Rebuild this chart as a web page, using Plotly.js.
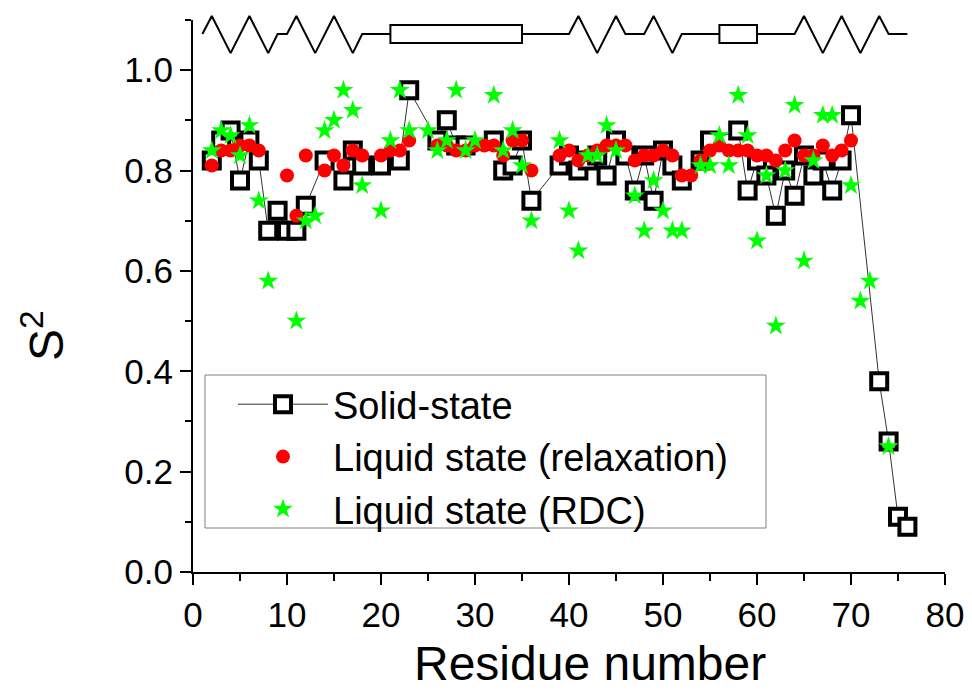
<!DOCTYPE html>
<html>
<head>
<meta charset="utf-8">
<script src="https://cdn.plot.ly/plotly-3.0.1.min.js"></script>
<style>
    html, body { margin: 0; padding: 0; background: #fff; }
    #plot { width: 972px; height: 698px; }
</style>
</head>
<body>
<div id="plot"></div>
<script>
// Solid-state order parameters (black squares, joined by a thin line).
const solidResidue = [2, 3, 4, 5, 6, 7, 8, 9, 10, 11, 12, 14, 16, 17, 18, 20, 22, 23, 26, 27, 28, 29, 32, 33, 34, 35, 36,
    39, 40, 41, 42, 43, 44, 45, 46, 47, 48, 49, 50, 51, 52, 54, 55, 58, 59, 60, 61, 62, 63, 64, 65, 66, 67, 68, 69, 70,
    73, 74, 75, 76];
const solidS2 = [0.82, 0.86, 0.88, 0.78, 0.86, 0.82, 0.68, 0.72, 0.68, 0.68, 0.73, 0.82, 0.78, 0.84, 0.81, 0.81, 0.82, 0.96,
    0.86, 0.90, 0.85, 0.85, 0.86, 0.80, 0.81, 0.86, 0.74, 0.81, 0.83, 0.80, 0.82, 0.83, 0.79, 0.86, 0.83, 0.76, 0.83, 0.74,
    0.84, 0.81, 0.78, 0.82, 0.86, 0.88, 0.76, 0.82, 0.79, 0.71, 0.80, 0.75, 0.83, 0.79, 0.82, 0.76, 0.82, 0.91, 0.38, 0.26,
    0.11, 0.09];

// Liquid state, relaxation (red dots).
const relaxResidue = [2, 3, 4, 5, 6, 7, 10, 11, 12, 14, 15, 16, 17, 18, 20, 21, 22, 23, 26, 27, 28, 29, 30, 31, 32, 33, 34,
    35, 36, 39, 40, 41, 42, 43, 44, 45, 46, 47, 48, 49, 50, 51, 52, 53, 54, 55, 56, 57, 58, 59, 60, 61, 62, 63, 64, 65, 66,
    67, 68, 69, 70];
const relaxS2 = [0.81, 0.84, 0.84, 0.85, 0.85, 0.84, 0.79, 0.71, 0.83, 0.80, 0.83, 0.81, 0.84, 0.83, 0.83, 0.84, 0.84, 0.86,
    0.85, 0.85, 0.84, 0.84, 0.85, 0.85, 0.85, 0.83, 0.86, 0.86, 0.80, 0.83, 0.84, 0.82, 0.83, 0.84, 0.85, 0.85, 0.85, 0.82,
    0.83, 0.83, 0.84, 0.83, 0.79, 0.79, 0.82, 0.84, 0.85, 0.84, 0.84, 0.84, 0.83, 0.83, 0.82, 0.84, 0.86, 0.83, 0.83, 0.85,
    0.83, 0.84, 0.86];

// Liquid state, RDC (green stars).
const rdcResidue = [2, 3, 4, 5, 6, 7, 8, 11, 12, 13, 14, 15, 16, 17, 18, 20, 21, 22, 23, 25, 26, 27, 28, 29, 30, 32, 33, 34,
    35, 36, 39, 40, 41, 42, 43, 44, 45, 47, 48, 49, 50, 51, 52, 54, 55, 56, 57, 58, 59, 60, 61, 62, 63, 64, 65, 66, 67, 68,
    70, 71, 72, 74];
const rdcS2 = [0.84, 0.88, 0.87, 0.83, 0.89, 0.74, 0.58, 0.50, 0.70, 0.71, 0.88, 0.90, 0.96, 0.92, 0.77, 0.72, 0.86, 0.96,
    0.88, 0.88, 0.84, 0.86, 0.96, 0.84, 0.86, 0.95, 0.84, 0.88, 0.81, 0.70, 0.86, 0.72, 0.64, 0.83, 0.83, 0.89, 0.84, 0.75,
    0.68, 0.78, 0.72, 0.68, 0.68, 0.81, 0.81, 0.87, 0.81, 0.95, 0.87, 0.66, 0.79, 0.49, 0.80, 0.93, 0.62, 0.82, 0.91, 0.91,
    0.77, 0.54, 0.58, 0.25];

// Secondary structure along the sequence (drawn as a cartoon above the data).
const strands = [[1, 9], [10, 18], [40, 46], [48, 52], [64, 74]];
const helices = [[21, 35], [56, 60]];
const chainEnd = 76;

const legendNames = ['Solid-state', 'Liquid state (relaxation)', 'Liquid state (RDC)'];
const xTickVals = [0, 10, 20, 30, 40, 50, 60, 70, 80];
const yTickVals = [0, 0.2, 0.4, 0.6, 0.8, 1.0];

const font = 'Liberation Sans, Arial, sans-serif';

// cartoon levels, in the same S2 units as the data axis
const cartoon = { mid: 1.072, peak: 1.108, trough: 1.034, boxLow: 1.054, boxHigh: 1.090 };

function strandPath() {
    const x = [];
    const y = [];

    strands.forEach(([ start, end ]) => {
        x.push(start);
        y.push(cartoon.mid);
        let up = true;
        for (let r = start + 1; r < end; r += 2) {
            x.push(r);
            y.push(up ? cartoon.peak : cartoon.trough);
            up = !up;
        }
        x.push(end);
        y.push(cartoon.mid);
    });
    x.push(chainEnd);
    y.push(cartoon.mid);

    return { x, y };
}

// pixel frame of the plot area
const plotLeft = 193;
const plotWidth = 752;
const plotTop = 10;
const plotBottom = 572;
const plotHeight = plotBottom - plotTop;
const axisTop = 20;
const yDomainTop = (plotBottom - axisTop) / plotHeight;
const yMax = 1.1;

const px = v => (v - plotLeft) / plotWidth;
const py = v => (plotBottom - v) / plotHeight;

const path = strandPath();

const data = [
    {
        x: path.x,
        y: path.y,
        yaxis: 'y2',
        mode: 'lines',
        line: { color: '#000', width: 2 },
        hoverinfo: 'skip',
        showlegend: false,
    },
    {
        x: solidResidue,
        y: solidS2,
        name: legendNames[0],
        mode: 'lines+markers',
        line: { color: '#333', width: 1 },
        marker: { symbol: 'square', size: 16, color: '#fff', line: { color: '#000', width: 4 } },
    },
    {
        x: relaxResidue,
        y: relaxS2,
        name: legendNames[1],
        mode: 'markers',
        marker: { symbol: 'circle', size: 14, color: '#ff0000' },
    },
    {
        x: rdcResidue,
        y: rdcS2,
        name: legendNames[2],
        mode: 'markers',
        marker: { symbol: 'star', size: 15, color: '#00ff00' },
    },
];

const axisCommon = {
    showgrid: false,
    zeroline: false,
    showline: true,
    linecolor: '#000',
    linewidth: 2,
    ticks: 'outside',
    ticklen: 11,
    tickwidth: 2,
    tickcolor: '#000',
    tickfont: { family: font, size: 35, color: '#000' },
};

const helixBoxes = helices.map(([ start, end ]) => ({
    type: 'rect',
    xref: 'x',
    yref: 'y2',
    x0: start,
    x1: end,
    y0: cartoon.boxLow,
    y1: cartoon.boxHigh,
    fillcolor: '#fff',
    line: { color: '#000', width: 2 },
    layer: 'above',
}));

// frame around the legend
const legendFrame = {
    type: 'rect',
    xref: 'paper',
    yref: 'paper',
    x0: px(205),
    x1: px(766),
    y0: py(528),
    y1: py(375),
    fillcolor: '#fff',
    line: { color: '#808080', width: 1 },
    layer: 'below',
};

const layout = {
    width: 972,
    height: 698,
    margin: { l: plotLeft, r: 972 - plotLeft - plotWidth, t: plotTop, b: 698 - plotBottom },
    paper_bgcolor: '#fff',
    plot_bgcolor: 'rgba(0,0,0,0)',
    font: { family: font, color: '#000' },
    xaxis: {
        ...axisCommon,
        range: [ 0, 80 ],
        tickvals: xTickVals,
        anchor: 'y',
        minor: { dtick: 5, ticks: 'outside', ticklen: 7, tickwidth: 2, tickcolor: '#000' },
    },
    yaxis: {
        ...axisCommon,
        domain: [ 0, yDomainTop ],
        range: [ 0, yMax ],
        tickvals: yTickVals,
        tickformat: '.1f',
        minor: { dtick: 0.1, ticks: 'outside', ticklen: 6, tickwidth: 2, tickcolor: '#000' },
    },
    yaxis2: {
        domain: [ 0, 1 ],
        range: [ 0, yMax / yDomainTop ],
        anchor: 'x',
        visible: false,
        fixedrange: true,
    },
    shapes: [ legendFrame, ...helixBoxes ],
    legend: {
        x: px(233),
        y: py(457),
        xanchor: 'left',
        yanchor: 'middle',
        bgcolor: 'rgba(0,0,0,0)',
        borderwidth: 0,
        itemwidth: 90,
        font: { family: font, size: 38, color: '#000' },
    },
    annotations: [
        {
            text: 'S<sup>2</sup>',
            xref: 'paper',
            yref: 'paper',
            x: px(43),
            y: py(336),
            xanchor: 'center',
            yanchor: 'middle',
            textangle: -90,
            showarrow: false,
            font: { family: font, size: 48, color: '#000' },
        },
        {
            text: 'Residue number',
            xref: 'paper',
            yref: 'paper',
            x: px(590),
            y: py(663),
            xanchor: 'center',
            yanchor: 'middle',
            showarrow: false,
            font: { family: font, size: 48, color: '#000' },
        },
    ],
};

Plotly.newPlot('plot', data, layout, { staticPlot: true });
</script>
</body>
</html>
